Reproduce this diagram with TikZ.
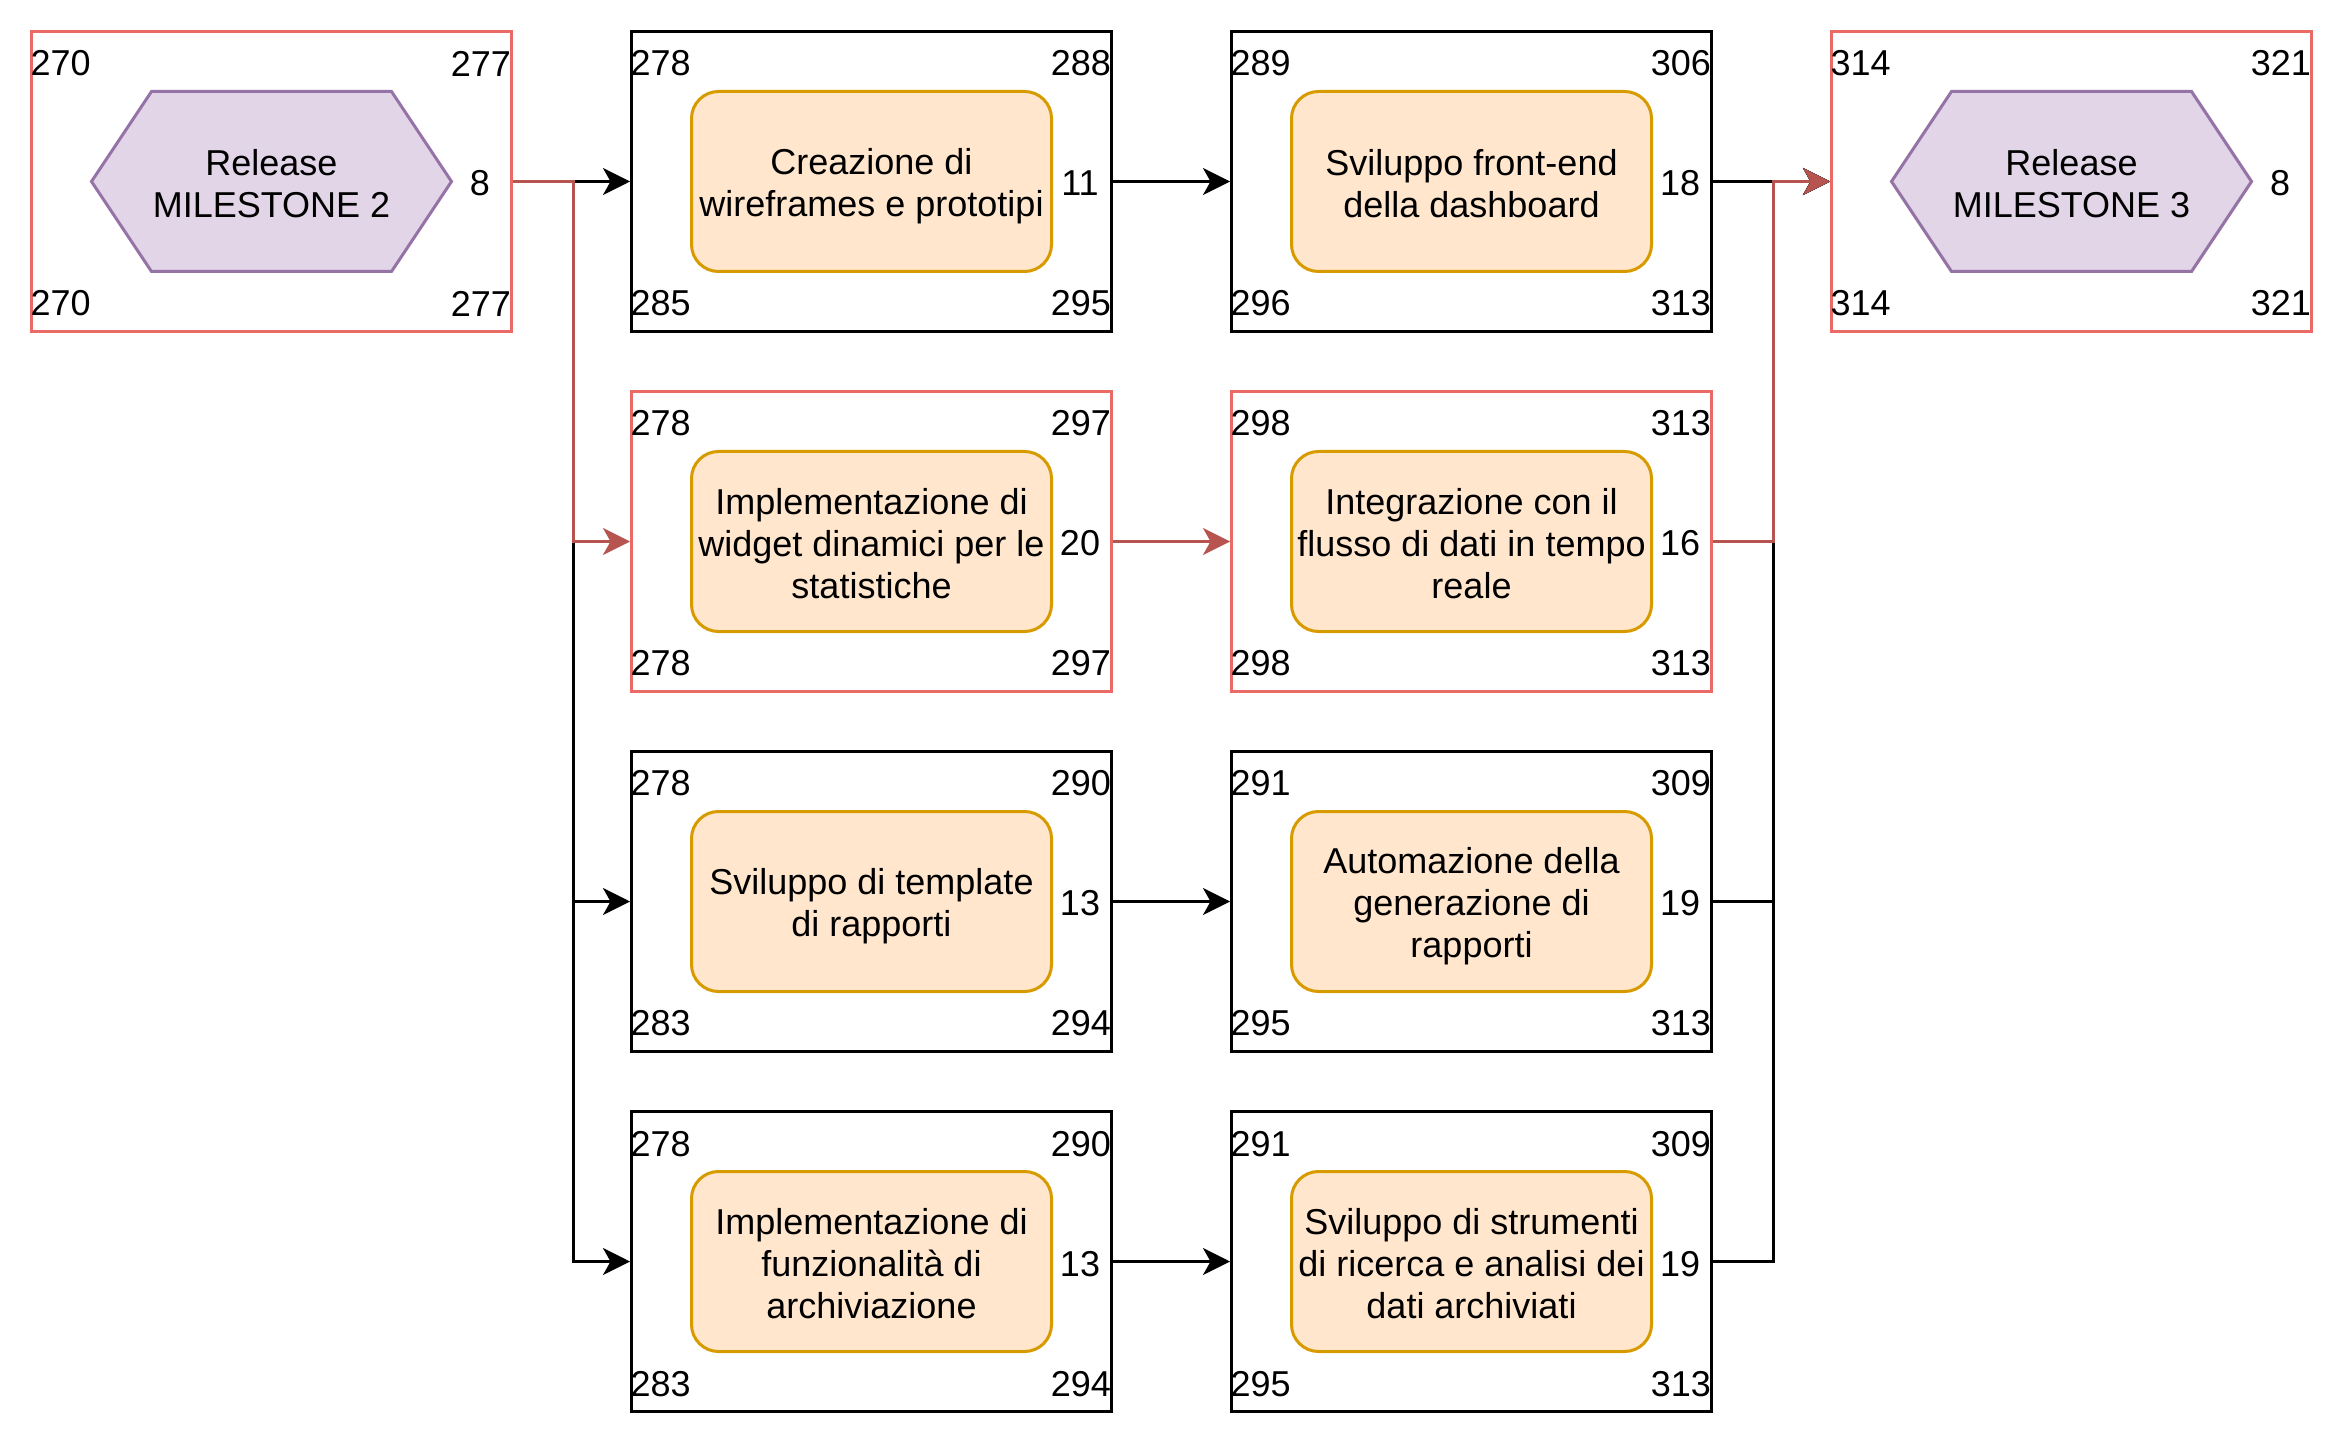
\documentclass[tikz,border=0pt]{standalone}
\usepackage{fontspec}
\setmainfont{Liberation Sans}
\usetikzlibrary{arrows.meta}
\definecolor{redbox}{HTML}{EA6B66}
\definecolor{rededge}{HTML}{B85450}
\definecolor{purfill}{HTML}{E1D5E7}
\definecolor{purline}{HTML}{9673A6}
\definecolor{orfill}{HTML}{FFE6CC}
\definecolor{orline}{HTML}{D79B00}
\newcommand\ls{\rule[-2.1pt]{0pt}{14pt}}
\newcommand\diagfont{\fontsize{12}{14}\selectfont\lineskiplimit=-50pt\relax\lineskip=0pt\relax}
\tikzset{
  cellbox/.style={draw, minimum width=160pt, minimum height=100pt, inner sep=0pt, line width=1pt, fill=white},
  blackbox/.style={draw=black},
  redframe/.style={draw=redbox},
  taskbox/.style={draw=orline, fill=orfill, line width=1pt, rounded corners=9pt, minimum width=120pt, minimum height=60pt, inner sep=0pt},
  tasktext/.style={inner sep=0pt, align=center},
  hexs/.style={draw=purline, fill=purfill, line width=1pt},
  num/.style={inner sep=0pt},
  conn/.style={line width=1pt, -{Stealth[length=9pt, width=9pt, inset=2.5pt]}},
  blk/.style={conn, draw=black},
  redl/.style={conn, draw=rededge, -{Stealth[length=9pt, width=9pt, inset=2.5pt, fill=rededge]}}
}
\newcommand\cellnums[5]{%
  \node[num,anchor=west] (#1#3l) at ([yshift=#2]#1.west) {#4};
  \node[num,anchor=east] (#1#3r) at ([yshift=#2,xshift=-0.5pt]#1.east) {#5};}
\newcommand\cellframe[7]{%
  \node[cellbox,#4,anchor=north west] (#1) at (#2,#3) {};
  \node[num] (#1r) at ([xshift=69.5pt,yshift=-0.7pt]#1.center) {#5};
  \cellnums{#1}{39.3pt}{t}#6
  \cellnums{#1}{-40.7pt}{b}#7}
\newcommand\taskin[2]{%
  \node[taskbox] (#1in) at (#1.center) {};
  \node[tasktext] (#1tx) at (#1in.center) {#2};}
\newcommand\milestone[2]{%
  \filldraw[hexs] ([xshift=-60pt]#1.center) -- ++(20,-30) -- ++(80,0) -- ++(20,30) -- ++(-20,30) -- ++(-80,0) -- cycle;
  \node[tasktext] (#1tx) at (#1.center) {#2};}
\begin{document}
\begin{tikzpicture}[x=1pt, y=-1pt, font=\diagfont]
\useasboundingbox[fill=white] (0,0) rectangle (781,481);
% milestone 2
\cellframe{m2}{10}{10}{redframe}{8}{{270}{277}}{{270}{277}}
\milestone{m2}{\ls Release\\\ls MILESTONE 2}
% column 1
\cellframe{c10}{210}{10}{blackbox}{11}{{278}{288}}{{285}{295}}
\taskin{c10}{\ls Creazione di\\\ls wireframes e prototipi}
\cellframe{c11}{210}{130}{redframe}{20}{{278}{297}}{{278}{297}}
\taskin{c11}{\ls Implementazione di\\\ls widget dinamici per le\\\ls statistiche}
\cellframe{c12}{210}{250}{blackbox}{13}{{278}{290}}{{283}{294}}
\taskin{c12}{\ls Sviluppo di template\\\ls di rapporti}
\cellframe{c13}{210}{370}{blackbox}{13}{{278}{290}}{{283}{294}}
\taskin{c13}{\ls Implementazione di\\\ls funzionalità di\\\ls archiviazione}
% column 2
\cellframe{c20}{410}{10}{blackbox}{18}{{289}{306}}{{296}{313}}
\taskin{c20}{\ls Sviluppo front-end\\\ls della dashboard}
\cellframe{c21}{410}{130}{redframe}{16}{{298}{313}}{{298}{313}}
\taskin{c21}{\ls Integrazione con il\\\ls flusso di dati in tempo\\\ls reale}
\cellframe{c22}{410}{250}{blackbox}{19}{{291}{309}}{{295}{313}}
\taskin{c22}{\ls Automazione della\\\ls generazione di\\\ls rapporti}
\cellframe{c23}{410}{370}{blackbox}{19}{{291}{309}}{{295}{313}}
\taskin{c23}{\ls Sviluppo di strumenti\\\ls di ricerca e analisi dei\\\ls dati archiviati}
% milestone 3
\cellframe{m3}{610}{10}{redframe}{8}{{314}{321}}{{314}{321}}
\milestone{m3}{\ls Release\\\ls MILESTONE 3}
% black connectors
\draw[blk] (m2.east) -- (c10.west);
\draw[blk] (m2.east) -- ++(20,0) |- (c12.west);
\draw[blk] (m2.east) -- ++(20,0) |- (c13.west);
\draw[blk] (c10.east) -- (c20.west);
\draw[blk] (c12.east) -- (c22.west);
\draw[blk] (c13.east) -- (c23.west);
\draw[blk] (c20.east) -- (m3.west);
\draw[blk] (c22.east) -- ++(20,0) |- (m3.west);
\draw[blk] (c23.east) -- ++(20,0) |- (m3.west);
% red connectors
\draw[redl] (m2.east) -- ++(20,0) |- (c11.west);
\draw[redl] (c11.east) -- (c21.west);
\draw[redl] (c21.east) -- ++(20,0) |- (m3.west);
\end{tikzpicture}
\end{document}
